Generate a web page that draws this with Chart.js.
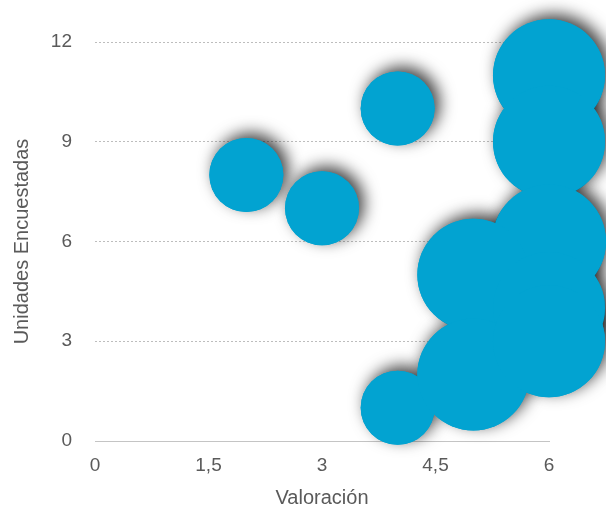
<!DOCTYPE html>
<html>
<head>
<meta charset="utf-8">
<script src="https://cdn.jsdelivr.net/npm/chart.js@4"></script>
<style>
  html, body { margin: 0; padding: 0; background: #fff; }
  #wrap { width: 606px; height: 510px; }
</style>
</head>
<body>
<div id="wrap"><canvas id="bubbleChart"></canvas></div>
<script>
// Valoración vs unidades encuestadas
const valoracion = [2, 3, 4, 4, 6, 6, 6, 5, 6, 5, 6];
const unidades = [8, 7, 10, 1, 11, 9, 6, 5, 4, 2, 3];
const radios = [37, 37, 37, 37, 56, 56, 57, 56, 56, 56, 56];
const xTicks = [0, 1.5, 3, 4.5, 6];
const yTicks = [0, 3, 6, 9, 12];

const points = valoracion.map((v, i) => ({ x: v, y: unidades[i], r: radios[i] }));

// draw all bubbles once with a shadow, then the normal pass paints over it
const shadowPlugin = {
  id: 'bubbleShadow',
  beforeDatasetDraw(chart, args) {
    const ctx = chart.ctx;
    ctx.save();
    ctx.shadowColor = 'rgba(0, 0, 0, 0.75)';
    ctx.shadowBlur = 16;
    ctx.shadowOffsetX = 5;
    ctx.shadowOffsetY = -5;
    args.meta.data.forEach(el => el.draw(ctx));
    ctx.restore();
  }
};

Chart.defaults.font.family = '"Liberation Sans", Arial, sans-serif';
Chart.defaults.color = '#5a5a5a';

document.addEventListener('DOMContentLoaded', () => {
  const ctx = document.getElementById('bubbleChart');
  new Chart(ctx, {
    type: 'bubble',
    data: {
      datasets: [{
        data: points,
        backgroundColor: '#02a3d1',
        borderWidth: 0,
        hoverBorderWidth: 0,
        clip: false
      }]
    },
    plugins: [shadowPlugin],
    options: {
      responsive: true,
      maintainAspectRatio: false,
      animation: false,
      events: [],
      layout: { autoPadding: false, padding: { left: 0, right: 57, top: 42, bottom: 0 } },
      plugins: { legend: { display: false }, tooltip: { enabled: false } },
      scales: {
        x: {
          type: 'linear',
          min: 0,
          max: 6,
          afterBuildTicks: scale => { scale.ticks = xTicks.map(v => ({ value: v })); },
          afterFit: scale => { scale.height = 69; },
          grid: { display: false, drawTicks: false },
          border: { display: true, color: '#c4c4c4', width: 1 },
          ticks: {
            padding: 13,
            font: { size: 19 },
            callback: v => String(v).replace('.', ',')
          },
          title: {
            display: true,
            text: 'Valoración',
            font: { size: 20 },
            padding: { top: 0, bottom: 0 }
          }
        },
        y: {
          type: 'linear',
          min: 0,
          max: 12,
          afterBuildTicks: scale => { scale.ticks = yTicks.map(v => ({ value: v })); },
          afterFit: scale => { scale.width = 95; },
          grid: {
            drawTicks: false,
            color: c => c.tick && c.tick.value === 0 ? 'rgba(0,0,0,0)' : '#bdbdbd',
            lineWidth: 1
          },
          border: { display: false, dash: [2, 2] },
          ticks: { padding: 23, font: { size: 19 } },
          title: {
            display: true,
            text: 'Unidades Encuestadas',
            font: { size: 20 },
            padding: { top: 10, bottom: 0 }
          }
        }
      }
    }
  });
});
</script>
</body>
</html>
